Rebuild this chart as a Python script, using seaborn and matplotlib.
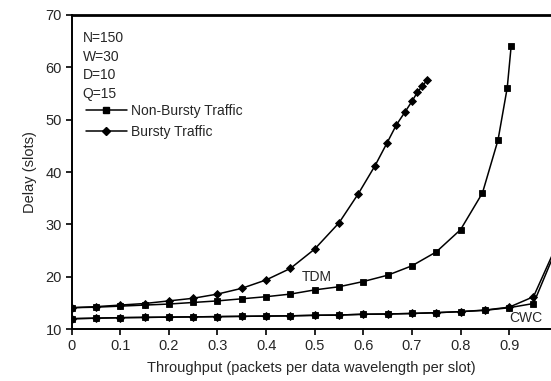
import numpy as np
import pandas as pd
import matplotlib
matplotlib.use('Agg')
import matplotlib.pyplot as plt
from matplotlib.lines import Line2D
import seaborn as sns

# TDM, non-bursty traffic (squares)
tdm_nb_x = [0, 0.05, 0.1, 0.15, 0.2, 0.25, 0.3, 0.35, 0.4, 0.45, 0.5, 0.55,
            0.6, 0.65, 0.7, 0.75, 0.8, 0.845, 0.877, 0.896, 0.904]
tdm_nb_y = [14.1, 14.2, 14.4, 14.6, 14.8, 15.1, 15.4, 15.8, 16.2, 16.7, 17.5, 18.1,
            19.1, 20.3, 22.1, 24.75, 29.0, 36.0, 46.1, 56.1, 64.0]

# TDM, bursty traffic (diamonds)
tdm_b_x = [0, 0.05, 0.1, 0.15, 0.2, 0.25, 0.3, 0.35, 0.4, 0.45, 0.5, 0.55,
           0.59, 0.624, 0.649, 0.668, 0.686, 0.7, 0.711, 0.721, 0.731]
tdm_b_y = [14.1, 14.3, 14.6, 14.9, 15.4, 15.9, 16.7, 17.8, 19.4, 21.6, 25.3, 30.3,
           35.9, 41.2, 45.6, 49.0, 51.5, 53.5, 55.2, 56.4, 57.5]

# CWC, non-bursty and bursty
cwc_x = [0, 0.05, 0.1, 0.15, 0.2, 0.25, 0.3, 0.35, 0.4, 0.45, 0.5, 0.55,
         0.6, 0.65, 0.7, 0.75, 0.8, 0.85, 0.9, 0.95, 1.0]
cwc_nb_y = [12.0, 12.1, 12.2, 12.25, 12.3, 12.35, 12.4, 12.45, 12.5, 12.55, 12.65, 12.7,
            12.85, 12.9, 13.0, 13.15, 13.35, 13.6, 14.1, 14.9, 26.0]
cwc_b_y = [12.0, 12.1, 12.2, 12.25, 12.3, 12.35, 12.4, 12.45, 12.5, 12.55, 12.65, 12.7,
           12.85, 12.9, 13.0, 13.15, 13.35, 13.65, 14.2, 16.2, 26.5]

params = ['N=150', 'W=30', 'D=10', 'Q=15']
x_ticks = [0, 0.1, 0.2, 0.3, 0.4, 0.5, 0.6, 0.7, 0.8, 0.9]
x_labels = ['0', '0.1', '0.2', '0.3', '0.4', '0.5', '0.6', '0.7', '0.8', '0.9']
y_ticks = [10, 20, 30, 40, 50, 60, 70]

NB = 'Non-Bursty Traffic'
B = 'Bursty Traffic'


def build_frame():
    parts = [
        pd.DataFrame({'x': tdm_nb_x, 'y': tdm_nb_y, 'run': 'TDM-NB', 'traffic': NB}),
        pd.DataFrame({'x': tdm_b_x, 'y': tdm_b_y, 'run': 'TDM-B', 'traffic': B}),
        pd.DataFrame({'x': cwc_x, 'y': cwc_nb_y, 'run': 'CWC-NB', 'traffic': NB}),
        pd.DataFrame({'x': cwc_x, 'y': cwc_b_y, 'run': 'CWC-B', 'traffic': B}),
    ]
    return pd.concat(parts, ignore_index=True)


def main():
    sns.set_style('ticks')
    plt.rcParams['font.family'] = ['Liberation Sans', 'DejaVu Sans']

    df = build_frame()

    fig = plt.figure(figsize=(5.51, 3.81), dpi=100)
    ax = fig.add_axes([0.130, 0.136, 0.870, 0.825])

    markers = {NB: 's', B: 'D'}
    sizes = {NB: 3.8, B: 3.6}
    for run, sub in df.groupby('run', sort=False):
        traffic = sub['traffic'].iloc[0]
        sns.lineplot(data=sub, x='x', y='y', ax=ax, color='black', lw=1.1,
                     marker=markers[traffic], markersize=sizes[traffic],
                     markeredgewidth=0.6, markeredgecolor='black',
                     estimator=None, sort=False, legend=False)

    ax.set_xlim(0, 0.986)
    ax.set_ylim(10, 70)
    ax.set_xticks(x_ticks)
    ax.set_xticklabels(x_labels)
    ax.set_yticks(y_ticks)
    ax.tick_params(axis='both', labelsize=10.5, length=4, width=1.2,
                   direction='out', color='black', pad=3)

    ax.set_xlabel('Throughput (packets per data wavelength per slot)', fontsize=10.5, labelpad=6)
    ax.set_ylabel('Delay (slots)', fontsize=10.5, labelpad=6)

    for side in ['left', 'bottom']:
        ax.spines[side].set_linewidth(1.4)
        ax.spines[side].set_color('black')
    ax.spines['top'].set_visible(True)
    ax.spines['top'].set_linewidth(2.0)
    ax.spines['top'].set_color('black')
    ax.spines['right'].set_visible(False)

    # parameter block
    for i, p in enumerate(params):
        ax.text(0.023, 65.6 - i * 3.55, p, fontsize=10, va='center', ha='left')

    handles = [
        Line2D([], [], color='black', lw=1.1, marker='s', markersize=3.8),
        Line2D([], [], color='black', lw=1.1, marker='D', markersize=3.6),
    ]
    ax.legend(handles, [NB, B], loc='upper left', bbox_to_anchor=(0.0, 0.76),
              frameon=False, fontsize=10, handlelength=3.0, handletextpad=0.3,
              labelspacing=0.5, borderaxespad=0.6, numpoints=1)

    ax.text(0.504, 19.9, 'TDM', fontsize=10, ha='center', va='center')
    ax.text(0.935, 12.1, 'CWC', fontsize=10, ha='center', va='center')

    fig.savefig('out.png', dpi=100)
    plt.close(fig)


if __name__ == '__main__':
    main()
